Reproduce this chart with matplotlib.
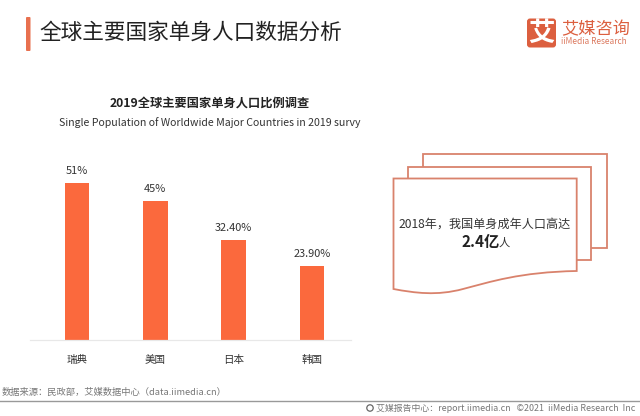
import matplotlib
matplotlib.use("Agg")
import matplotlib.pyplot as plt
from matplotlib.patches import FancyBboxPatch, PathPatch, Rectangle
from matplotlib.path import Path

plt.rcParams['font.family'] = ['Noto Sans CJK SC', 'DejaVu Sans']

# data
countries = ["瑞典", "美国", "日本", "韩国"]
share = [51, 45, 32.4, 23.9]
share_labels = ["51%", "45%", "32.40%", "23.90%"]

TITLE = "全球主要国家单身人口数据分析"
SUB_CN = "2019全球主要国家单身人口比例调查"
SUB_EN = "Single Population of Worldwide Major Countries in 2019 survy"
SOURCE = "数据来源：民政部，艾媒数据中心（data.iimedia.cn）"
FOOTER = "艾媒报告中心：report.iimedia.cn   ©2021  iiMedia Research  Inc"

ORANGE = "#fb693d"
ACCENT = "#e8704f"
PAPER = "#d9826c"
W, H = 640, 416

fig = plt.figure(figsize=(W / 100, H / 100), dpi=100, facecolor="white")

# overlay in pixel coords, for everything that isn't the bar chart
bg = fig.add_axes([0, 0, 1, 1])
bg.set_xlim(0, W)
bg.set_ylim(H, 0)
bg.axis("off")

# header
bg.add_patch(FancyBboxPatch((26, 17), 4.5, 34, boxstyle="round,pad=0,rounding_size=1",
                            fc=ACCENT, ec="none"))
bg.text(39.5, 33, TITLE, fontsize=15.6, color="#222222", ha="left", va="center")

# logo
bg.add_patch(FancyBboxPatch((527, 18.5), 29, 29, boxstyle="round,pad=0,rounding_size=3",
                            fc="#dc5f3f", ec="none"))
bg.text(541.5, 33, "艾", fontsize=19, color="white", ha="center", va="center", fontweight="bold")
bg.text(561, 29, "艾媒咨询", fontsize=12.4, color="#dc5f3f", ha="left", va="center", fontweight="medium")
bg.text(561, 42, "iiMedia Research", fontsize=6, color="#dc7a60", ha="left", va="center")

# chart titles
bg.text(209.5, 103, SUB_CN, fontsize=8.8, color="#222222", ha="center", va="center", fontweight="bold")
bg.text(210, 123, SUB_EN, fontsize=7.6, color="#333333", ha="center", va="center")

# stacked sheets behind the note
for left, top, right, bottom in [(422.7, 154.3, 606.7, 247.7), (408, 166.7, 590.7, 260)]:
    bg.add_patch(Rectangle((left, top), right - left, bottom - top,
                           fc="white", ec=PAPER, lw=1.3))

# front sheet with wavy bottom edge
verts = [(393.5, 178.5), (576.7, 178.5), (576.7, 271),
         (520, 272), (490, 282), (463, 289),
         (437, 296), (415, 293), (393.5, 289),
         (393.5, 178.5)]
codes = [Path.MOVETO, Path.LINETO, Path.LINETO,
         Path.CURVE4, Path.CURVE4, Path.CURVE4,
         Path.CURVE4, Path.CURVE4, Path.CURVE4,
         Path.CLOSEPOLY]
bg.add_patch(PathPatch(Path(verts, codes), fc="white", ec=PAPER, lw=1.3))

bg.text(485, 224, "2018年，我国单身成年人口高达", fontsize=8.7, color="#333333",
        ha="center", va="center")
bg.text(461, 241.5, "2.4亿", fontsize=11, color="#222222", ha="left", va="center", fontweight="bold")
bg.text(498.5, 243, "人", fontsize=8.1, color="#333333", ha="left", va="center")

# footer
bg.text(2, 392.5, SOURCE, fontsize=6.7, color="#777777", ha="left", va="center")
bg.plot([0, W], [401, 401], color="#999999", lw=1)
bg.add_patch(plt.Circle((370, 408), 3.2, fc="white", ec="#666666", lw=0.9))
bg.text(635, 408, FOOTER, fontsize=6.4, color="#777777", ha="right", va="center")

# bar chart
ax = fig.add_axes([30 / W, 1 - 340 / H, 321 / W, 170 / H])
ax.patch.set_alpha(0)
x = range(len(countries))
bars = ax.bar(x, share, width=0.313, color=ORANGE)
ax.set_xlim(-0.6, 3.5)
ax.set_ylim(0, 55.1)
ax.set_xticks(list(x), countries, fontsize=7.6, color="#333333")
ax.tick_params(axis="x", length=0, pad=11)
ax.set_yticks([])
for side in ["top", "left", "right"]:
    ax.spines[side].set_visible(False)
ax.spines["bottom"].set_color("#e8e8e8")
ax.spines["bottom"].set_linewidth(0.9)
ax.bar_label(bars, labels=share_labels, fontsize=7.9, color="#333333", padding=5)

fig.savefig("out.png", dpi=100)
